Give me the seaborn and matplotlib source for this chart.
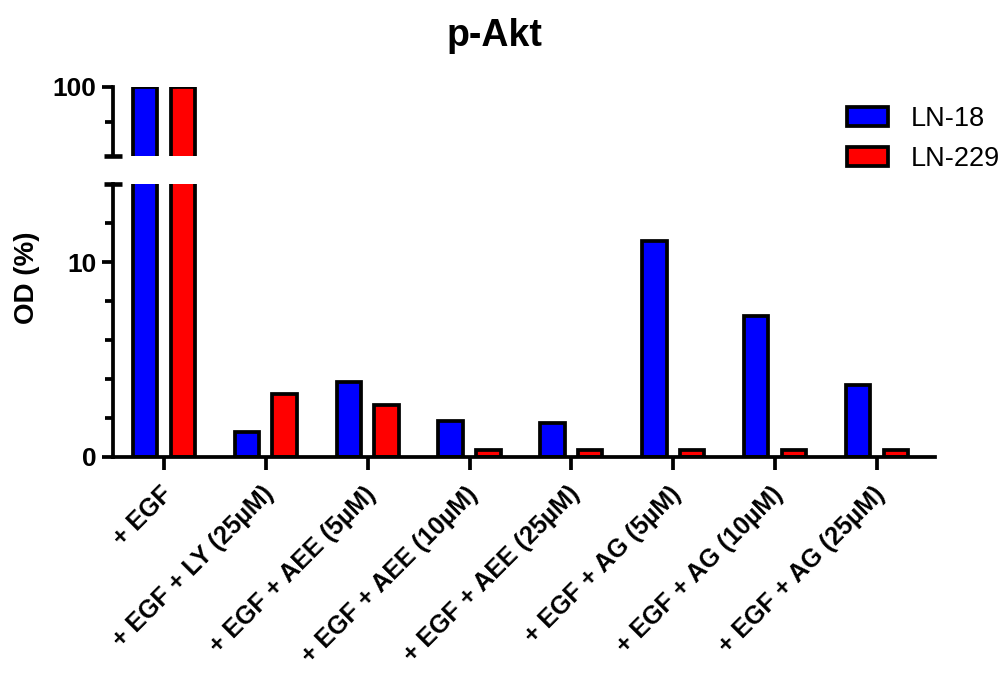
import matplotlib
matplotlib.use('Agg')
import matplotlib.pyplot as plt
import matplotlib.transforms as mtransforms
import seaborn as sns
import pandas as pd
import numpy as np

conditions = ['+ EGF', '+ EGF + LY (25µM)', '+ EGF + AEE (5µM)', '+ EGF + AEE (10µM)',
              '+ EGF + AEE (25µM)', '+ EGF + AG (5µM)', '+ EGF + AG (10µM)', '+ EGF + AG (25µM)']
ln18 = [100, 1.26, 3.84, 1.85, 1.73, 11.07, 7.21, 3.70]
ln229 = [100, 3.24, 2.67, 0.36, 0.36, 0.35, 0.35, 0.35]
cell_lines = ['LN-18', 'LN-229']
colors = ['#0000ff', '#ff0000']

df = pd.DataFrame({
    'condition': conditions * 2,
    'od': ln18 + ln229,
    'line': [cell_lines[0]] * len(conditions) + [cell_lines[1]] * len(conditions),
})

sns.set_style('ticks', {'axes.edgecolor': 'black', 'text.color': 'black',
                        'xtick.color': 'black', 'ytick.color': 'black'})
plt.rcParams['font.family'] = ['Liberation Sans', 'DejaVu Sans']

fig = plt.figure(figsize=(10.08, 6.84), dpi=100)
left, width = 113 / 1008, 822 / 1008
ax_lo = fig.add_axes([left, (684 - 457) / 684, width, (457 - 184) / 684])
ax_hi = fig.add_axes([left, (684 - 156) / 684, width, (156 - 87) / 684])

lw = 2.7
for ax in (ax_lo, ax_hi):
    sns.barplot(data=df, x='condition', y='od', hue='line', palette=colors,
                saturation=1, width=0.74, gap=0.35, edgecolor='black', linewidth=lw,
                ax=ax, legend=(ax is ax_hi))
    ax.set_xlim(-0.5, 7.57)
    ax.set_xlabel('')
    ax.set_ylabel('')
    for s in ['top', 'right']:
        ax.spines[s].set_visible(False)
    ax.spines['left'].set_linewidth(lw)
    ax.spines['bottom'].set_linewidth(lw)
    ax.tick_params(axis='y', which='major', length=8, width=lw, labelsize=19, pad=4)
    ax.tick_params(axis='y', which='minor', length=5.5, width=lw)

# lower segment
ax_lo.set_ylim(0, 14)
ax_lo.set_yticks([0, 10])
ax_lo.set_yticks([2, 4, 6, 8, 12], minor=True)
ax_lo.set_yticklabels(['0', '10'], fontweight='bold', fontsize=19)
ax_lo.tick_params(axis='x', length=9, width=lw, pad=9)
ax_lo.set_xticks(range(len(conditions)))
ax_lo.set_xticklabels(conditions, rotation=45, ha='right', va='top',
                      rotation_mode='anchor', fontweight='bold', fontsize=18)
shift = mtransforms.ScaledTranslation(-4 / 100, 0, fig.dpi_scale_trans)
for t in ax_lo.get_xticklabels():
    t.set_transform(t.get_transform() + shift)

# upper segment
ax_hi.set_ylim(90, 100)
ax_hi.set_yticks([100])
ax_hi.set_yticks([95], minor=True)
ax_hi.set_yticklabels(['100'], fontweight='bold', fontsize=19)
ax_hi.spines['bottom'].set_visible(False)
ax_hi.tick_params(axis='x', bottom=False, labelbottom=False)

# break caps
cap = 9 / 822
ax_lo.plot([-cap, cap], [1, 1], transform=ax_lo.transAxes, color='black',
           lw=lw + 0.6, clip_on=False, solid_capstyle='butt')
ax_hi.plot([-cap, cap], [0, 0], transform=ax_hi.transAxes, color='black',
           lw=lw + 0.6, clip_on=False, solid_capstyle='butt')

# legend
handles, labels = ax_hi.get_legend_handles_labels()
ax_hi.get_legend().remove()
fig.legend(handles, labels, loc='upper left', bbox_to_anchor=(847 / 1008, 1 - 106 / 684),
           frameon=False, fontsize=19.5, handlelength=1.5, handleheight=0.7,
           handletextpad=0.85, labelspacing=0.5, borderpad=0, borderaxespad=0)

fig.text(494 / 1008, 1 - 36 / 684, 'p-Akt', ha='center', va='center',
         fontsize=27, fontweight='bold')
fig.text(27 / 1008, 1 - 278 / 684, 'OD (%)', ha='center', va='center',
         rotation=90, fontsize=20, fontweight='bold')

fig.savefig('out.png', dpi=100)
